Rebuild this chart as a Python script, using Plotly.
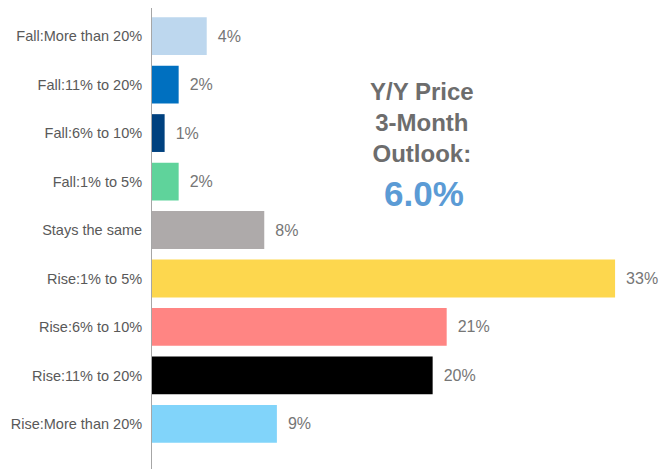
import plotly.graph_objects as go

categories = ["Fall:More than 20%", "Fall:11% to 20%", "Fall:6% to 10%", "Fall:1% to 5%",
              "Stays the same", "Rise:1% to 5%", "Rise:6% to 10%", "Rise:11% to 20%",
              "Rise:More than 20%"]
values = [3.9, 1.9, 0.9, 1.9, 8.0, 33.0, 21.0, 20.0, 8.9]
labels = ["4%", "2%", "1%", "2%", "8%", "33%", "21%", "20%", "9%"]
colors = ["#bdd7ee", "#0070c0", "#00417f", "#5fd39b", "#aeaaaa",
          "#fdd74e", "#ff8583", "#000000", "#81d4fa"]

# page body has an 8px default margin; figure is sized to fill the rest
W, H = 659, 461
L = 144

fig = go.Figure(go.Bar(
    x=values, y=categories, orientation="h",
    marker=dict(color=colors, line=dict(width=0)),
    width=0.78,
    text=labels, texttemplate="\u2002%{text}", textposition="outside",
    textfont=dict(family="Liberation Sans, Arial", size=16, color="#767676"),
    cliponaxis=False,
))

fig.update_layout(
    width=W, height=H,
    margin=dict(l=L, r=0, t=0, b=0, autoexpand=False),
    paper_bgcolor="white", plot_bgcolor="white",
    showlegend=False,
    xaxis=dict(range=[0, 36.7], visible=False, showgrid=False, zeroline=False, automargin=False),
    yaxis=dict(
        type="category", categoryorder="array", categoryarray=categories,
        range=[8.93, -0.58], automargin=False,
        showline=True, linecolor="#a6a6a6", linewidth=1,
        ticks="", ticklen=0, showgrid=False, zeroline=False,
        ticklabelstandoff=6,
        tickfont=dict(family="Liberation Sans, Arial", size=14.5, color="#595959"),
    ),
)

cx = (414 - L) / (W - L)
fig.add_annotation(
    xref="paper", yref="paper", x=cx, y=1 - 114 / H,
    text="Y/Y Price<br>3-Month<br>Outlook:", showarrow=False,
    font=dict(family="Liberation Sans, Arial", size=24, color="#6d6d6d", weight="bold"),
    align="center", xanchor="center", yanchor="middle",
)
fig.add_annotation(
    xref="paper", yref="paper", x=(416 - L) / (W - L), y=1 - 186 / H,
    text="6.0%", showarrow=False,
    font=dict(family="Liberation Sans, Arial", size=35, color="#5b9bd5", weight="bold"),
    align="center", xanchor="center", yanchor="middle",
)

fig.write_html("out.html")
